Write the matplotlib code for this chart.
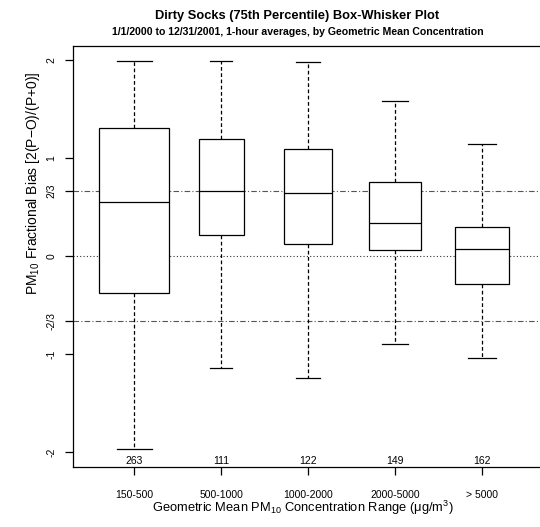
import numpy as np
import matplotlib
matplotlib.use("Agg")
import matplotlib.pyplot as plt

plt.rcParams['font.family'] = ['Liberation Sans', 'DejaVu Sans']
plt.rcParams['mathtext.fontset'] = 'custom'
plt.rcParams['mathtext.rm'] = 'Liberation Sans'
plt.rcParams['mathtext.it'] = 'Liberation Sans'
plt.rcParams['mathtext.bf'] = 'Liberation Sans:bold'

# box statistics (fractional bias)
categories = ["150-500", "500-1000", "1000-2000", "2000-5000", "> 5000"]
counts = [263, 111, 122, 149, 162]
whisker_lo = [-1.97, -1.14, -1.24, -0.90, -1.04]
q1 = [-0.38, 0.21, 0.12, 0.06, -0.29]
median = [0.55, 0.66, 0.645, 0.34, 0.07]
q3 = [1.31, 1.19, 1.09, 0.75, 0.30]
whisker_hi = [1.99, 1.99, 1.98, 1.585, 1.145]

ytick_vals = [2, 1, 2/3, 0, -2/3, -1, -2]
ytick_labels = ["2", "1", "2/3", "0", "-2/3", "-1", "-2"]

fig = plt.figure(figsize=(5.40, 5.27), dpi=100)
ax = fig.add_axes([73.3/540, 1 - 467.3/527, (543 - 73.3)/540, (467.3 - 45.7)/527])

pos = np.arange(1, len(categories) + 1)
widths = 0.8 * np.sqrt(counts) / np.sqrt(max(counts))

stats = []
for i in range(len(categories)):
    stats.append(dict(med=median[i], q1=q1[i], q3=q3[i],
                      whislo=whisker_lo[i], whishi=whisker_hi[i], fliers=[]))

# reference lines
ax.axhline(2/3, color='#555555', lw=0.8, ls=(0, (5, 2, 1, 2)), zorder=1)
ax.axhline(-2/3, color='#555555', lw=0.8, ls=(0, (5, 2, 1, 2)), zorder=1)
ax.axhline(0, color='#333333', lw=0.8, ls=(0, (1, 2)), zorder=1)

ax.bxp(stats, positions=pos, widths=widths, capwidths=widths / 2,
       showfliers=False, patch_artist=True,
       boxprops=dict(facecolor='white', edgecolor='black', lw=0.9),
       medianprops=dict(color='black', lw=0.9),
       whiskerprops=dict(color='black', lw=0.9, ls=(0, (3, 2))),
       capprops=dict(color='black', lw=0.9), zorder=2)

ax.set_xlim(0.3, 5.7)
ax.set_ylim(-2.155, 2.145)

ax.set_yticks(ytick_vals)
ax.set_yticklabels(ytick_labels, rotation=90, va='center')
ax.set_xticks(pos)
ax.set_xticklabels(categories)
ax.tick_params(axis='both', labelsize=7.5, length=6, width=0.9, color='black')
ax.tick_params(axis='y', pad=6)
ax.tick_params(axis='x', pad=10)

for i in range(len(categories)):
    ax.text(pos[i], 0.014, str(counts[i]), transform=ax.get_xaxis_transform(),
            ha='center', va='center', fontsize=7.5)

ax.spines['right'].set_visible(False)
for s in ['left', 'bottom', 'top']:
    ax.spines[s].set_linewidth(0.9)

fig.text(33/540, 1 - 183/527, r"PM$_{10}$ Fractional Bias [2(P$-$O)/(P+0)]",
         rotation=90, ha='center', va='center', fontsize=10)
fig.text(303/540, 1 - 508/527,
         "Geometric Mean PM$_{10}$ Concentration Range (\u03bcg/m$^3$)",
         ha='center', va='center', fontsize=9.3)

fig.text(297/540, 1 - 16/527, "Dirty Socks (75th Percentile) Box-Whisker Plot",
         ha='center', va='center', fontsize=9.3, fontweight='bold')
fig.text(298/540, 1 - 32/527,
         "1/1/2000 to 12/31/2001, 1-hour averages, by Geometric Mean Concentration",
         ha='center', va='center', fontsize=7.6, fontweight='bold')

fig.savefig("out.png", dpi=100)
